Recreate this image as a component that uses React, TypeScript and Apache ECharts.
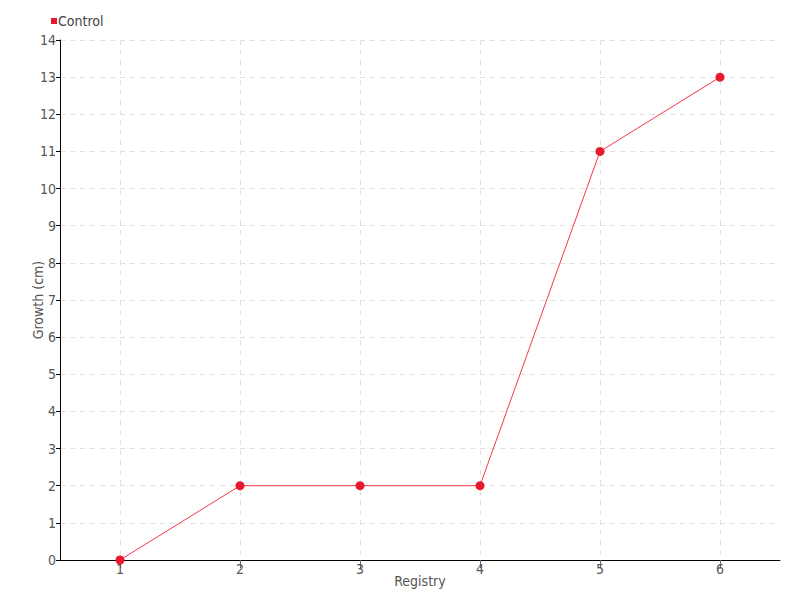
import React, { useEffect, useRef } from "react";
import * as echarts from "echarts";

const categories = ["1", "2", "3", "4", "5", "6"];
const controlValues = [0, 2, 2, 2, 11, 13];
const seriesName = "Control";
const xName = "Registry";
const yName = "Growth (cm)";

const FONT = "'DejaVu Sans Condensed', sans-serif";

export default function App() {
  const ref = useRef<HTMLDivElement>(null);
  useEffect(() => {
    if (!ref.current) return;
    const chart = echarts.init(ref.current, undefined, { renderer: "svg" });
    chart.setOption({
      animation: false,
      backgroundColor: "#ffffff",
      textStyle: { fontFamily: FONT },
      legend: {
        left: 46,
        top: 9,
        itemWidth: 6,
        itemHeight: 6,
        itemGap: 4,
        icon: "rect",
        data: [seriesName],
        textStyle: { fontFamily: FONT, fontSize: 14, color: "#444", padding: [0, 0, 0, -4] },
      },
      grid: { left: 60, right: 20, top: 40, bottom: 40, containLabel: false },
      xAxis: {
        type: "category",
        data: categories,
        boundaryGap: true,
        name: xName,
        nameLocation: "middle",
        nameGap: 14,
        nameMoveOverlap: false,
        nameTextStyle: { fontFamily: FONT, fontSize: 14, color: "#555" },
        axisLine: { lineStyle: { color: "#000", width: 1 } },
        axisTick: { show: true, alignWithLabel: true, length: 8, lineStyle: { color: "#666" } },
        axisLabel: { margin: 2, fontFamily: FONT, fontSize: 14, color: "#555" },
        splitLine: {
          show: true,
          alignWithLabel: true,
          lineStyle: { color: "#e0e0e0", type: [5, 5] },
        },
      },
      yAxis: {
        type: "value",
        min: 0,
        max: 14,
        interval: 1,
        name: yName,
        nameLocation: "middle",
        nameGap: 15,
        nameMoveOverlap: false,
        nameTextStyle: { fontFamily: FONT, fontSize: 14, color: "#555" },
        axisLine: { show: true, lineStyle: { color: "#000", width: 1 } },
        axisTick: { show: true, length: 4, lineStyle: { color: "#000" } },
        axisLabel: { margin: 4, fontFamily: FONT, fontSize: 14, color: "#555" },
        splitLine: { show: true, lineStyle: { color: "#e0e0e0", type: [5, 5] } },
      },
      series: [
        {
          name: seriesName,
          type: "line",
          data: controlValues,
          symbol: "circle",
          symbolSize: 9,
          itemStyle: { color: "#e8192c" },
          lineStyle: { color: "#f03a48", width: 1 },
        },
      ],
    });
    return () => chart.dispose();
  }, []);
  return <div ref={ref} style={{ width: 800, height: 600, position: "absolute", left: 0, top: 0 }} />;
}
